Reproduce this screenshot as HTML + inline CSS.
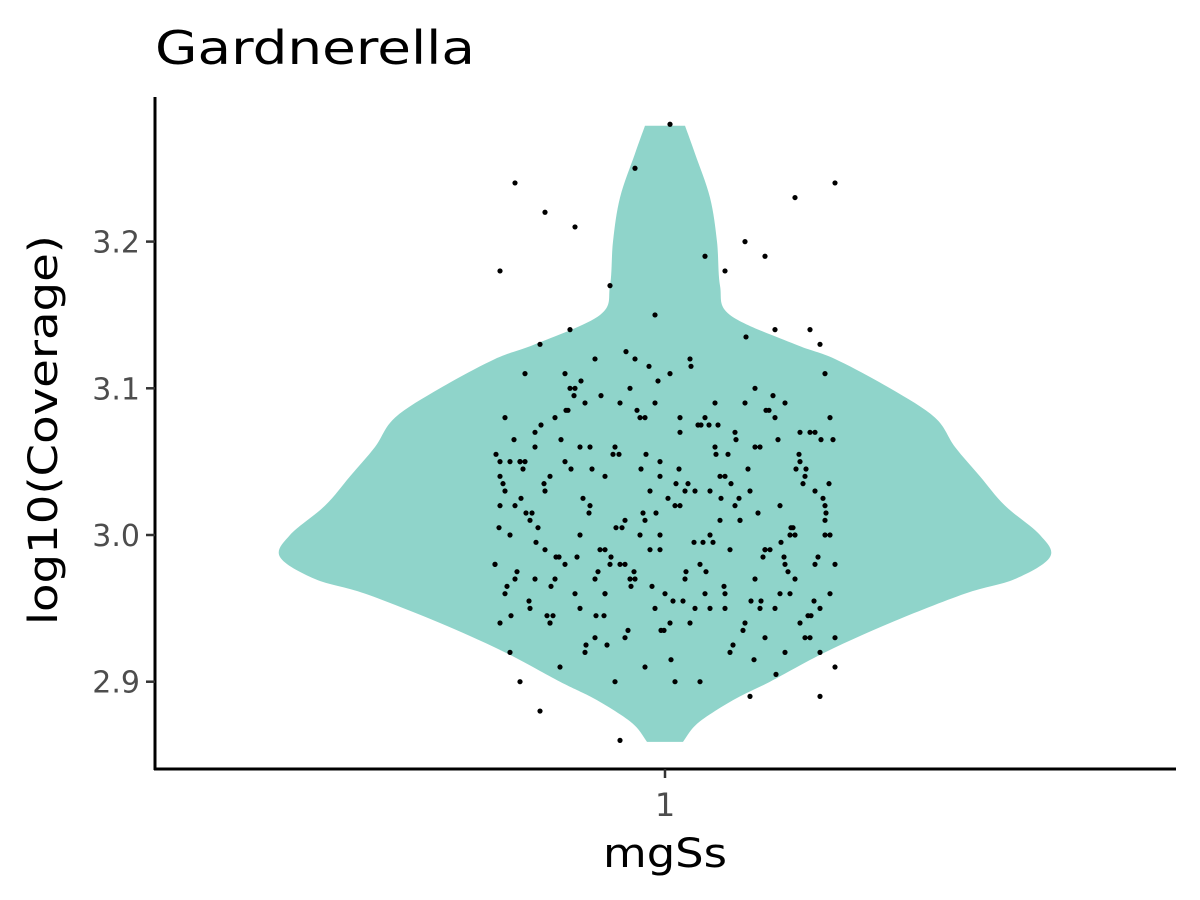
<!DOCTYPE html>
<html><head><meta charset="utf-8">
<style>
html,body{margin:0;padding:0;background:#fff;}
svg{display:block;font-family:"DejaVu Sans","Liberation Sans",sans-serif;}
</style></head>
<body>
<svg id="chart" width="1200" height="900" viewBox="0 0 1200 900">
<rect width="1200" height="900" fill="#fff"/>
<text x="155" y="64" font-size="46" fill="#000" textLength="320" lengthAdjust="spacingAndGlyphs">Gardnerella</text>
<g id="plot"></g>
<line x1="155" y1="97" x2="155" y2="770" stroke="#000" stroke-width="3"/>
<line x1="154" y1="769" x2="1176" y2="769" stroke="#000" stroke-width="3"/>
<g id="yticks"></g>
<line x1="665" y1="769" x2="665" y2="778" stroke="#333" stroke-width="2.5"/>
<text x="665" y="816" font-size="32" fill="#4d4d4d" text-anchor="middle">1</text>
<text x="665" y="867" font-size="40" fill="#000" text-anchor="middle" textLength="124" lengthAdjust="spacingAndGlyphs">mgSs</text>
<text transform="translate(57,430) rotate(-90)" font-size="40" fill="#000" text-anchor="middle" textLength="390" lengthAdjust="spacingAndGlyphs">log10(Coverage)</text>
</svg>
<script>
const yTicks = [2.9, 3.0, 3.1, 3.2];
const yTickLabels = ["2.9", "3.0", "3.1", "3.2"];
const violinY = [2.859, 2.87, 2.88, 2.89, 2.9, 2.92, 2.94, 2.96, 2.97, 2.985, 3.0, 3.02, 3.04, 3.06, 3.08, 3.1, 3.12, 3.13, 3.15, 3.17, 3.2, 3.23, 3.26, 3.279];
const violinHalf = [18, 30, 50, 75, 105, 160, 225, 300, 350, 385, 375, 340, 315, 290, 270, 225, 170, 130, 65, 55, 52, 45, 30, 20];
const ptX = [-30,40,-150,170,-120,100,-90,60,-10,130,-165,80,-55,145,-95,25,-125,155,-70,110,
  -140,5,90,-35,160,-80,50,-160,120,-20,70,-110,135,-50,15,-130,95,-5,165,-100,
  -145,55,-60,140,-15,85,-115,30,150,-75,-165,10,115,-40,75,-135,160,-85,45,-25,
  125,-155,65,-65,105,-5,-120,170,-45,35,-100,150,-170,20,90,-30,130,-150,60,-90,
  0,165,-60,110,-135,45,-10,155,-115,80,-165,25,140,-70,100,-40,-155,65,120,-20,
  -105,170,-50,35,-145,85,10,-125,155,-80,50,-160,130,-35,95,-95,15,-140,160,-60,
  40,-115,145,-5,75,-170,115,-45,-85,20,165,-130,60,-25,135,-150,100,-70,5,-100,
  150,-165,55,-55,125,-10,90,-120,160,-40,30,-90,110,-145,70,-15,-160,145,-75,45,
  -5,-110,135,-30,80,-155,15,100,-60,170,-130,60,-20,120,-85,40,-165,155,-45,5,
  -162,-148,-133,-118,-104,-88,-73,-58,-43,-28,-13,3,18,33,48,63,78,93,108,123,138,153,168,
  -158,-142,-127,-112,-97,-82,-67,-52,-37,-22,-7,8,23,38,53,68,83,98,113,128,143,158,
  -166,-151,-136,-121,-106,-91,-76,-61,-46,-31,-16,-1,14,29,44,59,74,89,104,119,134,149,164,
  -154,-139,-124,-109,-94,-79,-64,-49,-34,-19,-4,11,26,41,56,71,86,101,116,131,146,161,
  -169,-144,-114,-84,-54,-24,6,36,66,96,126,156,-129,-99,-69,-39,-9,21,51,81,111,141];
const ptY = [3.25,3.19,3.24,3.24,3.22,3.19,3.21,3.18,3.15,3.23,3.18,3.2,3.17,3.14,3.14,3.12,3.13,3.13,3.12,3.14,
  3.11,3.11,3.1,3.1,3.11,3.09,3.09,3.08,3.09,3.08,3.07,3.08,3.07,3.06,3.07,3.06,3.06,3.05,3.08,3.05,
  3.05,3.04,3.04,3.04,3.03,3.03,3.04,3.03,3.03,3.02,3.02,3.02,3.02,3.01,3.01,3.01,3.01,3.0,3.0,3.0,
  3.0,3.0,2.99,2.99,2.99,2.99,2.99,2.98,2.98,2.98,2.98,2.98,2.98,2.97,2.97,2.97,2.97,2.97,2.96,2.96,
  2.96,2.96,2.96,2.95,2.95,2.95,2.95,2.95,2.94,2.94,2.94,2.94,2.93,2.93,2.93,2.93,2.92,2.92,2.92,2.91,
  2.91,2.91,2.9,2.9,2.9,2.89,2.9,2.88,2.89,2.92,3.06,3.03,3.0,2.97,2.95,3.1,3.08,3.05,3.02,2.99,
  2.96,2.94,3.07,3.04,3.01,2.98,2.96,3.09,3.06,3.03,3.0,2.97,2.95,3.08,3.05,3.02,2.99,2.97,2.94,3.11,
  3.07,3.04,3.01,2.98,2.96,3.09,3.06,3.03,3.0,2.98,2.95,3.1,3.08,3.05,3.02,2.99,2.96,2.93,3.06,3.03,
  3.0,2.97,2.94,3.12,3.09,3.05,3.02,2.99,2.96,2.93,3.07,3.04,3.01,2.98,2.95,3.08,3.05,2.92,2.86,3.28,
  3.035,2.975,3.015,2.945,3.065,2.985,3.045,2.925,3.005,3.085,2.965,3.025,2.955,3.075,2.995,3.055,2.935,3.015,3.095,2.975,3.035,2.985,3.065,
  2.965,3.045,3.005,2.945,3.085,3.025,2.975,3.055,2.935,3.015,3.105,2.955,3.035,2.995,3.075,2.925,3.045,2.985,3.065,3.005,2.945,3.025,
  3.005,3.065,2.955,3.035,2.985,3.095,3.015,2.945,3.055,2.975,3.115,2.935,3.045,2.995,3.075,2.965,3.025,2.915,3.085,2.985,3.055,2.955,3.035,
  2.945,3.015,3.075,2.985,3.045,2.925,3.095,3.005,2.965,3.055,2.935,3.035,3.115,2.975,3.025,3.065,2.955,3.085,2.995,3.045,2.945,3.015,
  3.055,3.025,2.965,3.105,2.985,3.045,2.915,3.075,3.035,2.955,3.005,3.065,2.995,3.085,2.945,3.125,3.015,2.975,3.055,3.135,2.905,3.045];

const NS = "http://www.w3.org/2000/svg";
const xCenter = 665;
function yScale(v){ return 535 - (v - 3.0) * 1467; }
const plot = document.getElementById('plot');
// violin: smooth path via Catmull-Rom
const rightPts = [], leftPts = [];
for (let i = 0; i < violinY.length; i++) {
  rightPts.push([xCenter + violinHalf[i], yScale(violinY[i])]);
  leftPts.unshift([xCenter - violinHalf[i], yScale(violinY[i])]);
}
function smooth(pts) {
  let d = "";
  for (let i = 0; i < pts.length - 1; i++) {
    const p0 = pts[Math.max(0, i - 1)], p1 = pts[i], p2 = pts[i + 1], p3 = pts[Math.min(pts.length - 1, i + 2)];
    const c1 = [p1[0] + (p2[0] - p0[0]) / 6, p1[1] + (p2[1] - p0[1]) / 6];
    const c2 = [p2[0] - (p3[0] - p1[0]) / 6, p2[1] - (p3[1] - p1[1]) / 6];
    d += " C" + c1[0] + "," + c1[1] + " " + c2[0] + "," + c2[1] + " " + p2[0] + "," + p2[1];
  }
  return d;
}
let d = "M" + rightPts[0][0] + "," + rightPts[0][1] + smooth(rightPts) +
  " L" + leftPts[0][0] + "," + leftPts[0][1] + smooth(leftPts) + " Z";
const vp = document.createElementNS(NS, 'path');
vp.setAttribute('d', d);
vp.setAttribute('fill', '#8fd4ca');


plot.appendChild(vp);
// points
for (let i = 0; i < ptY.length; i++) {
  const c = document.createElementNS(NS, 'circle');
  c.setAttribute('cx', xCenter + ptX[i]);
  c.setAttribute('cy', yScale(ptY[i]));
  c.setAttribute('r', 2.6);
  c.setAttribute('fill', '#000');
  
  
  plot.appendChild(c);
}
// y ticks
const yt = document.getElementById('yticks');
for (let i = 0; i < yTicks.length; i++) {
  const y = yScale(yTicks[i]);
  const l = document.createElementNS(NS, 'line');
  l.setAttribute('x1', 146); l.setAttribute('x2', 155);
  l.setAttribute('y1', y); l.setAttribute('y2', y);
  l.setAttribute('stroke', '#333'); l.setAttribute('stroke-width', 2.5);
  
  
  yt.appendChild(l);
  const t = document.createElementNS(NS, 'text');
  t.setAttribute('x', 140); t.setAttribute('y', y + 11);
  t.setAttribute('font-size', 30); t.setAttribute('fill', '#4d4d4d');
  t.setAttribute('text-anchor', 'end');
  t.textContent = yTickLabels[i];
  
  
  yt.appendChild(t);
}
</script>
</body></html>
